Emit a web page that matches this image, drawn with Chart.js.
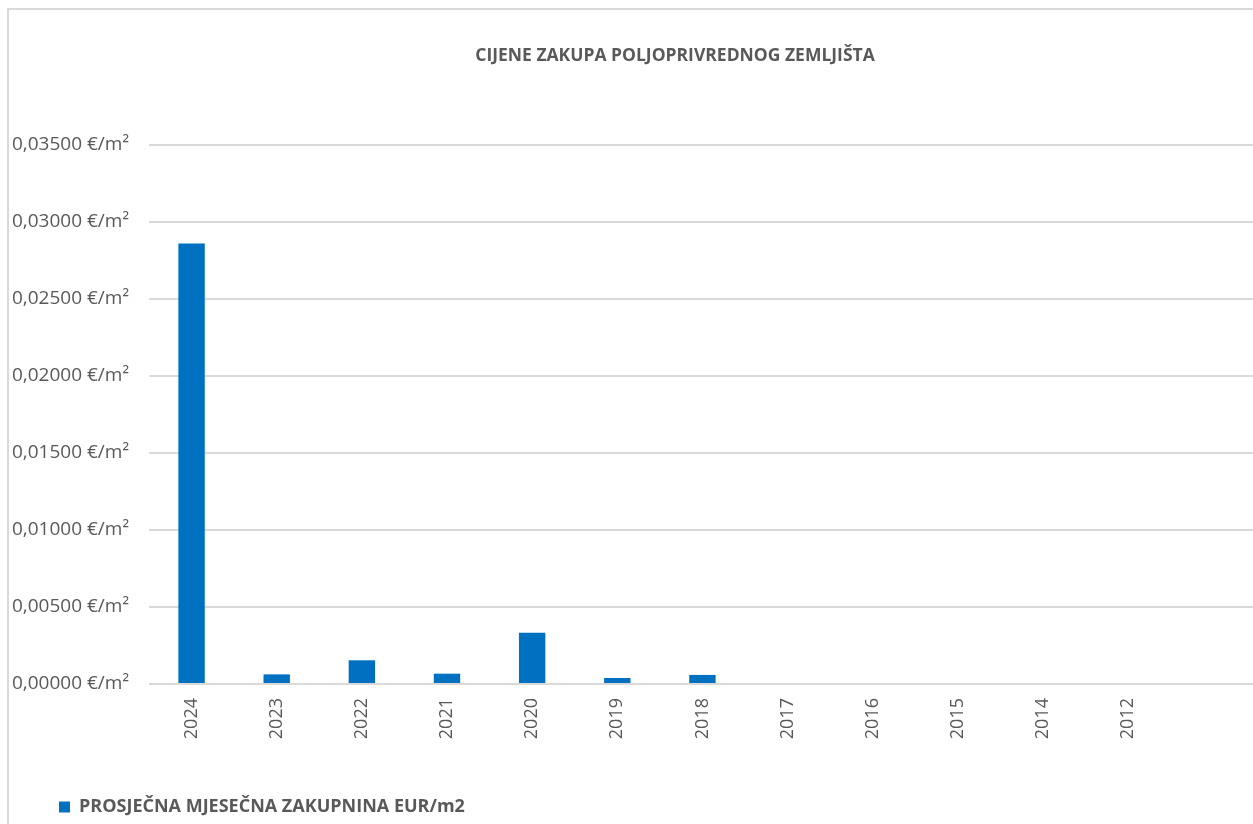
<!DOCTYPE html>
<html>
    <head>
        <meta charset="utf-8">
        <title>Cijene zakupa poljoprivrednog zemljišta</title>
        <script src="https://cdn.jsdelivr.net/npm/chart.js@4/dist/chart.umd.min.js"></script>
        <style>
            html, body { margin: 0; padding: 0; background: #fff; overflow: hidden; }
            /* frame of the chart, only the left and top edges are in view */
            #frame {
                position: absolute;
                left: 7px;
                top: 8px;
                width: 1400px;
                height: 900px;
                border-left: 2px solid #d9d9d9;
                border-top: 2px solid #d9d9d9;
            }
            #box { position: absolute; left: 0; top: 0; width: 1332px; height: 816px; }
        </style>
    </head>
    <body>
        <div id="frame"><div id="box"><canvas id="chart"></canvas></div></div>
        <script>
            // years on the category axis (two trailing empty slots)
            const years = ["2024", "2023", "2022", "2021", "2020", "2019", "2018",
                           "2017", "2016", "2015", "2014", "2012", "", ""];
            // average monthly rent, EUR per m2
            const rent = [0.02860, 0.000625, 0.00154, 0.00067, 0.00332, 0.00039, 0.00059,
                          null, null, null, null, null, null, null];
            // value axis
            const yMin = 0;
            const yMax = 0.035;
            const yStep = 0.005;

            const seriesName = "PROSJEČNA MJESEČNA ZAKUPNINA EUR/m2";
            const chartTitle = "CIJENE ZAKUPA POLJOPRIVREDNOG ZEMLJIŠTA";

            const grey = "#595959";
            const font = "'Open Sans', 'DejaVu Sans', sans-serif";

            const ctx = document.getElementById("chart").getContext("2d");
            new Chart(ctx, {
                type: "bar",
                data: {
                    labels: years,
                    datasets: [{
                        label: seriesName,
                        data: rent,
                        backgroundColor: "#0070C0",
                        borderWidth: 0,
                        categoryPercentage: 1,
                        barPercentage: 0.31
                    }]
                },
                options: {
                    responsive: true,
                    maintainAspectRatio: false,
                    animation: false,
                    layout: { padding: 0 },
                    plugins: {
                        title: {
                            display: true,
                            text: chartTitle,
                            color: grey,
                            font: { family: font, size: 17.5, weight: "bold" },
                            padding: { top: 36, bottom: 78 }
                        },
                        legend: {
                            position: "bottom",
                            align: "start",
                            labels: {
                                color: grey,
                                font: { family: font, size: 18, weight: "bold" },
                                boxWidth: 11,
                                boxHeight: 11,
                                padding: 50
                            }
                        },
                        tooltip: { enabled: false }
                    },
                    scales: {
                        x: {
                            grid: { display: false },
                            border: { display: false },
                            ticks: {
                                color: grey,
                                font: { family: font, size: 18 },
                                minRotation: 90,
                                maxRotation: 90,
                                autoSkip: false,
                                padding: 6
                            },
                            afterFit: (scale) => { scale.height = 64; }
                        },
                        y: {
                            min: yMin,
                            max: yMax,
                            border: { display: false },
                            grid: { color: "#d9d9d9", lineWidth: 2, drawTicks: false },
                            ticks: {
                                stepSize: yStep,
                                color: grey,
                                font: { family: font, size: 19 },
                                padding: 20,
                                callback: (v) => v.toFixed(5).replace(".", ",") + " €/m²"
                            },
                            afterFit: (scale) => { scale.width = 140; }
                        }
                    }
                }
            });
        </script>
    </body>
</html>
